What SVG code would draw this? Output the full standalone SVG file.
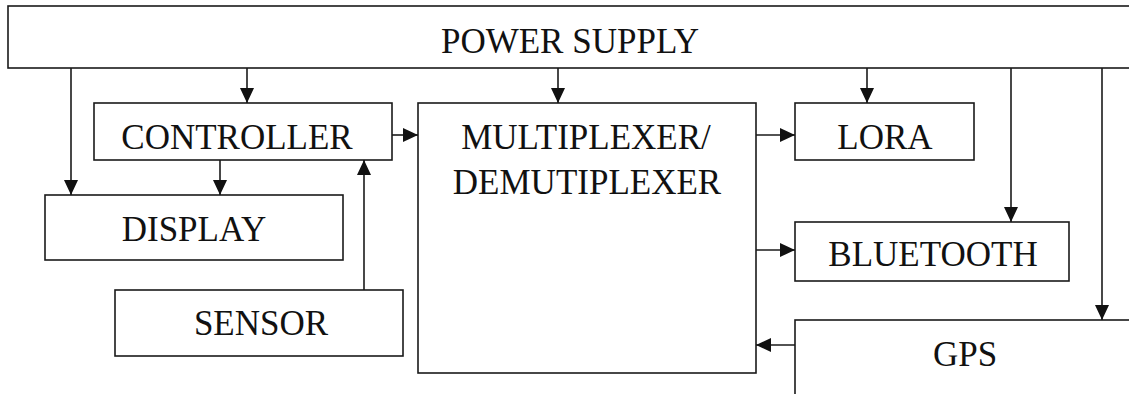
<svg xmlns="http://www.w3.org/2000/svg" width="1129" height="394" viewBox="0 0 1129 394">
<style>
.box{fill:#fff;stroke:#1a1a1a;stroke-width:1.6}
.lbl{font-family:"Liberation Serif","Times New Roman",serif;font-size:35px;fill:#111;text-anchor:middle}
.con{fill:none;stroke:#1a1a1a;stroke-width:1.6}
</style>
<defs>
<marker id="ah" markerUnits="userSpaceOnUse" markerWidth="15" markerHeight="14" refX="15" refY="7" orient="auto">
<path d="M0,0 L15,7 L0,14 Z" fill="#111"/>
</marker>
</defs>
<rect width="1129" height="394" fill="#fff"/>
<g id="power">
<rect class="box" x="8" y="6" width="1130" height="62"/>
<text class="lbl" x="570" y="53">POWER SUPPLY</text>
</g>
<g id="controller">
<rect class="box" x="94" y="103" width="298" height="57"/>
<text class="lbl" x="237" y="149">CONTROLLER</text>
</g>
<g id="display">
<rect class="box" x="45" y="195" width="298" height="65"/>
<text class="lbl" x="194" y="241">DISPLAY</text>
</g>
<g id="sensor">
<rect class="box" x="115" y="290" width="288" height="66"/>
<text class="lbl" x="261" y="335">SENSOR</text>
</g>
<g id="mux">
<rect class="box" x="418" y="103" width="338" height="270"/>
<text class="lbl" x="586" y="149">MULTIPLEXER/</text>
<text class="lbl" x="587" y="194">DEMUTIPLEXER</text>
</g>
<g id="lora">
<rect class="box" x="795" y="103" width="179" height="57"/>
<text class="lbl" x="885" y="149">LORA</text>
</g>
<g id="bluetooth">
<rect class="box" x="795" y="222" width="274" height="59"/>
<text class="lbl" x="933" y="266">BLUETOOTH</text>
</g>
<g id="gps">
<rect class="box" x="795" y="320" width="340" height="80"/>
<text class="lbl" x="965" y="366">GPS</text>
</g>
<g id="connectors">
<line class="con" x1="71" y1="68" x2="71" y2="195" marker-end="url(#ah)"/>
<line class="con" x1="247" y1="68" x2="247" y2="103" marker-end="url(#ah)"/>
<line class="con" x1="220" y1="160" x2="220" y2="195" marker-end="url(#ah)"/>
<line class="con" x1="364" y1="290" x2="364" y2="160" marker-end="url(#ah)"/>
<line class="con" x1="392" y1="135" x2="418" y2="135" marker-end="url(#ah)"/>
<line class="con" x1="558" y1="68" x2="558" y2="103" marker-end="url(#ah)"/>
<line class="con" x1="756" y1="135" x2="795" y2="135" marker-end="url(#ah)"/>
<line class="con" x1="867" y1="68" x2="867" y2="103" marker-end="url(#ah)"/>
<line class="con" x1="1011" y1="68" x2="1011" y2="222" marker-end="url(#ah)"/>
<line class="con" x1="756" y1="250" x2="795" y2="250" marker-end="url(#ah)"/>
<line class="con" x1="1102" y1="68" x2="1102" y2="320" marker-end="url(#ah)"/>
<line class="con" x1="795" y1="345" x2="756" y2="345" marker-end="url(#ah)"/>
</g>
</svg>
